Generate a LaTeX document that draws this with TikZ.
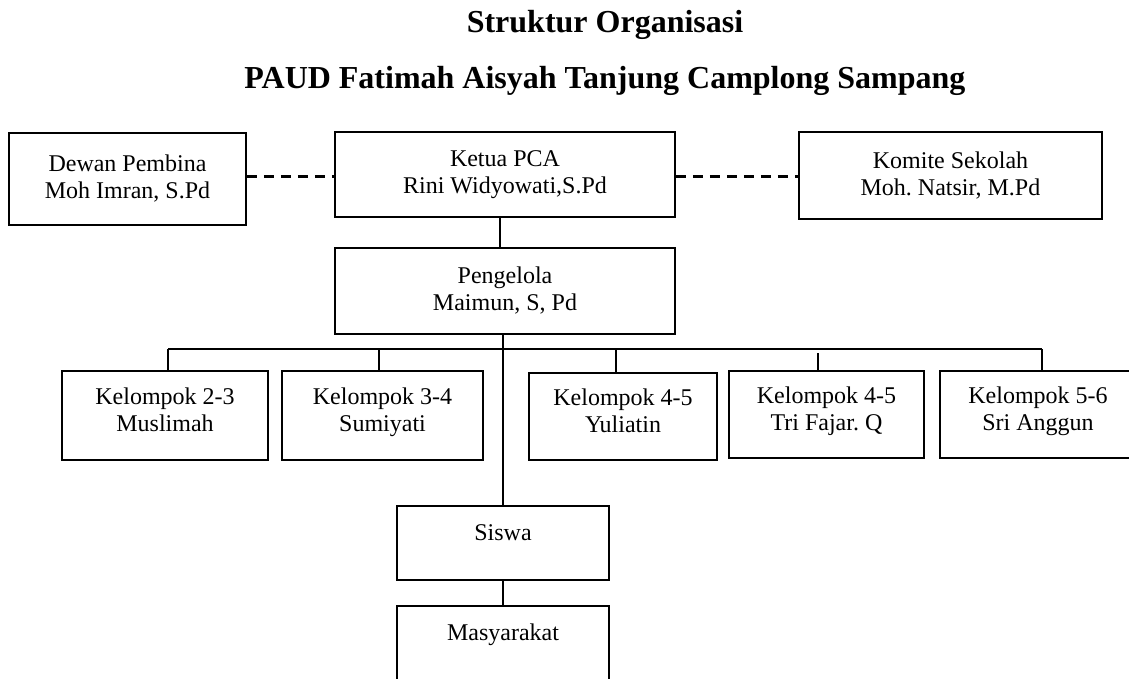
\documentclass[tikz,border=0pt]{standalone}
\usepackage{fontspec}
\setmainfont{Liberation Serif}
\usetikzlibrary{positioning}
\frenchspacing

\begin{document}
\begin{tikzpicture}[
  x=0.5pt, y=-0.5pt,
  box/.style={draw, line width=0.9pt, rectangle, align=center, inner sep=0pt, font=\fontsize{12}{13.5}\selectfont},
  group/.style={box, text depth=5.5pt},
  toptxt/.style={text height=8pt, text depth=#1},
  link/.style={line width=0.9pt},
  dashlink/.style={line width=1.5pt, dash pattern=on 5pt off 3.5pt},
  title/.style={font=\fontsize{16}{19}\selectfont\bfseries, anchor=base}
]
\useasboundingbox (0,0) rectangle (1129,679);

% Judul
\node[title] (judul) at (605,33) {Struktur Organisasi};
\node[title] (sekolah) at (605,89) {PAUD Fatimah Aisyah Tanjung Camplong Sampang};

% Pimpinan
\node[box, minimum width=118.5pt, minimum height=46pt] (dewan) at (127.5,179) {Dewan Pembina\\Moh Imran, S.Pd};
\node[box, minimum width=170pt, minimum height=42.5pt] (ketua) at (505,174.5) {Ketua PCA\\Rini Widyowati,S.Pd};
\node[box, minimum width=151.5pt, minimum height=43.5pt] (komite) at (950.5,175.5) {Komite Sekolah\\Moh. Natsir, M.Pd};
\node[box, minimum width=170pt, minimum height=43pt] (pengelola) at (505,291) {Pengelola\\Maimun, S, Pd};

\draw[dashlink] ([yshift=1pt]dewan.east) -- ([yshift=1pt]dewan.east -| ketua.west);
\draw[dashlink] ([yshift=-1.25pt]ketua.east) -- ([yshift=-1.25pt]ketua.east -| komite.west);
\draw[link] ([xshift=-2.5pt]ketua.south) -- ([xshift=-2.5pt]pengelola.north);

% Kelompok
\node[group, minimum width=103pt, minimum height=44.5pt] (k23) at (165,415.5) {Kelompok 2-3\\Muslimah};
\node[group, minimum width=100.5pt, minimum height=44.5pt] (k34) at (382.5,415.5) {Kelompok 3-4\\Sumiyati};
\node[group, minimum width=94pt, minimum height=43.5pt] (k45y) at (623,416.5) {Kelompok 4-5\\Yuliatin};
\node[group, minimum width=97.5pt, minimum height=43.5pt] (k45t) at (826.5,414.5) {Kelompok 4-5\\Tri Fajar. Q};
\node[group, minimum width=98pt, minimum height=43.5pt] (k56) at (1038,414.5) {Kelompok 5-6\\Sri Anggun};

\coordinate (d23) at (168,349);
\coordinate (d34) at (379,349);
\coordinate (d45y) at (616,349);
\coordinate (d45t) at (818,353);
\coordinate (d56) at (1042,349);

\draw[link] (d23) -- (d56);
\draw[link] (d23) -- (d23 |- k23.north);
\draw[link] (d34) -- (d34 |- k34.north);
\draw[link] (d45y) -- (d45y |- k45y.north);
\draw[link] (d45t) -- (d45t |- k45t.north);
\draw[link] (d56) -- (d56 |- k56.north);

% Siswa dan masyarakat
\node[box, toptxt=11pt, minimum width=106pt, minimum height=37pt] (siswa) at (503,543) {Siswa};
\node[box, toptxt=24pt, minimum width=106pt, minimum height=50pt] (masyarakat) at (503,656) {Masyarakat};

\draw[link] (pengelola.south -| siswa.north) -- (siswa.north);
\draw[link] (siswa.south) -- (masyarakat.north);

\end{tikzpicture}
\end{document}
